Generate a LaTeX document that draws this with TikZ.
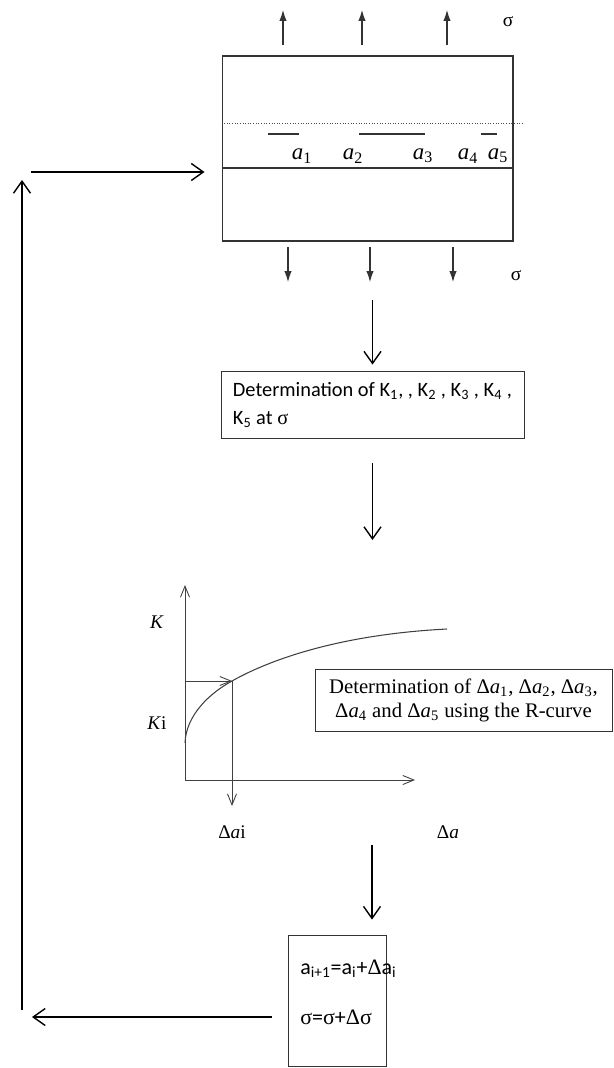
\documentclass[tikz,border=0pt]{standalone}
\usepackage{fontspec}
\setmainfont{Liberation Serif}
\newfontfamily\calib{Carlito}
\newfontfamily\symb{Liberation Serif}
\usetikzlibrary{arrows.meta}

\begin{document}
\begin{tikzpicture}[x=0.02cm, y=-0.02cm,
        flow/.style={-{Straight Barb[length=2.4mm, width=3.4mm]}, line width=0.8pt},
        load/.style={-{Latex[length=2.2mm, width=1.5mm]}, line width=0.6pt, black!80},
        axis/.style={-{Straight Barb[length=2.2mm, width=1.8mm]}, line width=0.5pt, black!75},
        box/.style={draw=black!80, line width=0.5pt, inner sep=0pt},
        ]

        \useasboundingbox (0,0) rectangle (613,1068);

        % plate with cracks
        \node (plate) [draw=black!80, line width=0.6pt, minimum width=5.82cm, minimum height=3.7cm, inner sep=0pt] at (367.5,148.5) {};
        \draw[black!70, densely dotted, line width=0.5pt] (plate.west |- 0,123) -- (524,123);
        \draw[black!80, line width=0.6pt] (plate.west |- 0,168) -- (plate.east |- 0,168);
        \foreach \xa/\xb in {268/299, 359/425, 481/497}
            \draw[black!80, line width=0.6pt] (\xa,134) -- (\xb,134);
        \foreach \i/\x in {1/302, 2/353, 3/423, 4/468, 5/498}
            \node (a\i) [font=\fontsize{13}{13}\selectfont] at (\x,156) {\textit{a}\textsubscript{\i}};

        \foreach \x in {283, 362, 447}
            \draw[load] (\x,45) -- (\x,10);
        \foreach \x in {288, 370, 453}
            \draw[load] (\x,247) -- (\x,282);
        \node (stop) [font=\fontsize{11}{11}\selectfont] at (508,22) {σ};
        \node (sbot) [font=\fontsize{11}{11}\selectfont] at (516,276) {σ};

        % K values
        \node (kdet) [box, font={\calib\fontsize{11.6}{16}\selectfont}, minimum width=6.06cm, minimum height=1.34cm,
            align=left] at (372.5,405)
            {Determination of K\textsubscript{1}, , K\textsubscript{2} , K\textsubscript{3} , K\textsubscript{4} ,\\K\textsubscript{5} at {\symb σ}};
        \draw[flow, shorten <=1.18cm, shorten >=0.13cm] (plate.south -| kdet.north) -- (kdet.north);
        \coordinate (c2) at (372.5,540);
        \draw[flow, shorten <=0.49cm] (kdet.south) -- (c2);

        % R-curve
        \coordinate (O) at (185,780);
        \coordinate (ytop) at (185,585);
        \coordinate (xend) at (415,780);
        \coordinate (P) at (232,681);
        \coordinate (Pd) at (232,806);
        \draw[axis] (O) -- (ytop);
        \draw[axis] (O) -- (xend);
        \draw[black!75, line width=0.6pt] (185,743) .. controls (186,715) and (210,693) .. (P)
            .. controls (262,664) and (330,635) .. (447,629);
        \draw[axis] (O |- P) -- (P);
        \draw[axis] (P) -- (Pd);
        \node (klab) [font=\fontsize{11}{11}\selectfont] at (157,622) {\textit{K}};
        \node (kilab) [font=\fontsize{11}{11}\selectfont] at (157,723) {\textit{K}i};
        \node (dai) [font=\fontsize{11}{11}\selectfont] at (232,832) {Δ\textit{a}i};
        \node (da) [font=\fontsize{11}{11}\selectfont] at (448,832) {Δ\textit{a}};

        \node (rdet) [box, font=\fontsize{11.8}{13.7}\selectfont, minimum width=5.94cm, minimum height=1.24cm,
            align=center] at (463.5,700)
            {Determination of Δ\textit{a}\textsubscript{1}, Δ\textit{a}\textsubscript{2}, Δ\textit{a}\textsubscript{3},\\
             Δ\textit{a}\textsubscript{4} and Δ\textit{a}\textsubscript{5} using the R-curve};

        % update
        \node (upd) [box, minimum width=1.96cm, minimum height=2.62cm] at (337,1000.5) {};
        \node (updtxt) [font={\calib\fontsize{12.5}{15}\selectfont}, align=left, anchor=west, inner sep=0pt] at (300,992)
            {a\textsubscript{i+1}=a\textsubscript{i}+{\symb Δ}a\textsubscript{i}\\[13.5pt]{\symb σ}={\symb σ}+{\symb Δσ}};
        \coordinate (c3) at (372,845);
        \draw[flow, shorten >=0.3cm] (c3) -- (c3 |- upd.north);

        % loop back
        \coordinate (rb) at (32,1017);
        \coordinate (lb) at (22,1010);
        \coordinate (lt) at (22,180);
        \coordinate (lt2) at (31,172);
        \draw[flow, shorten <=0.32cm] (upd.west |- rb) -- (rb);
        \draw[flow] (lb) -- (lt);
        \draw[flow, shorten >=0.34cm] (lt2) -- (lt2 -| plate.west);
    \end{tikzpicture}
\end{document}
